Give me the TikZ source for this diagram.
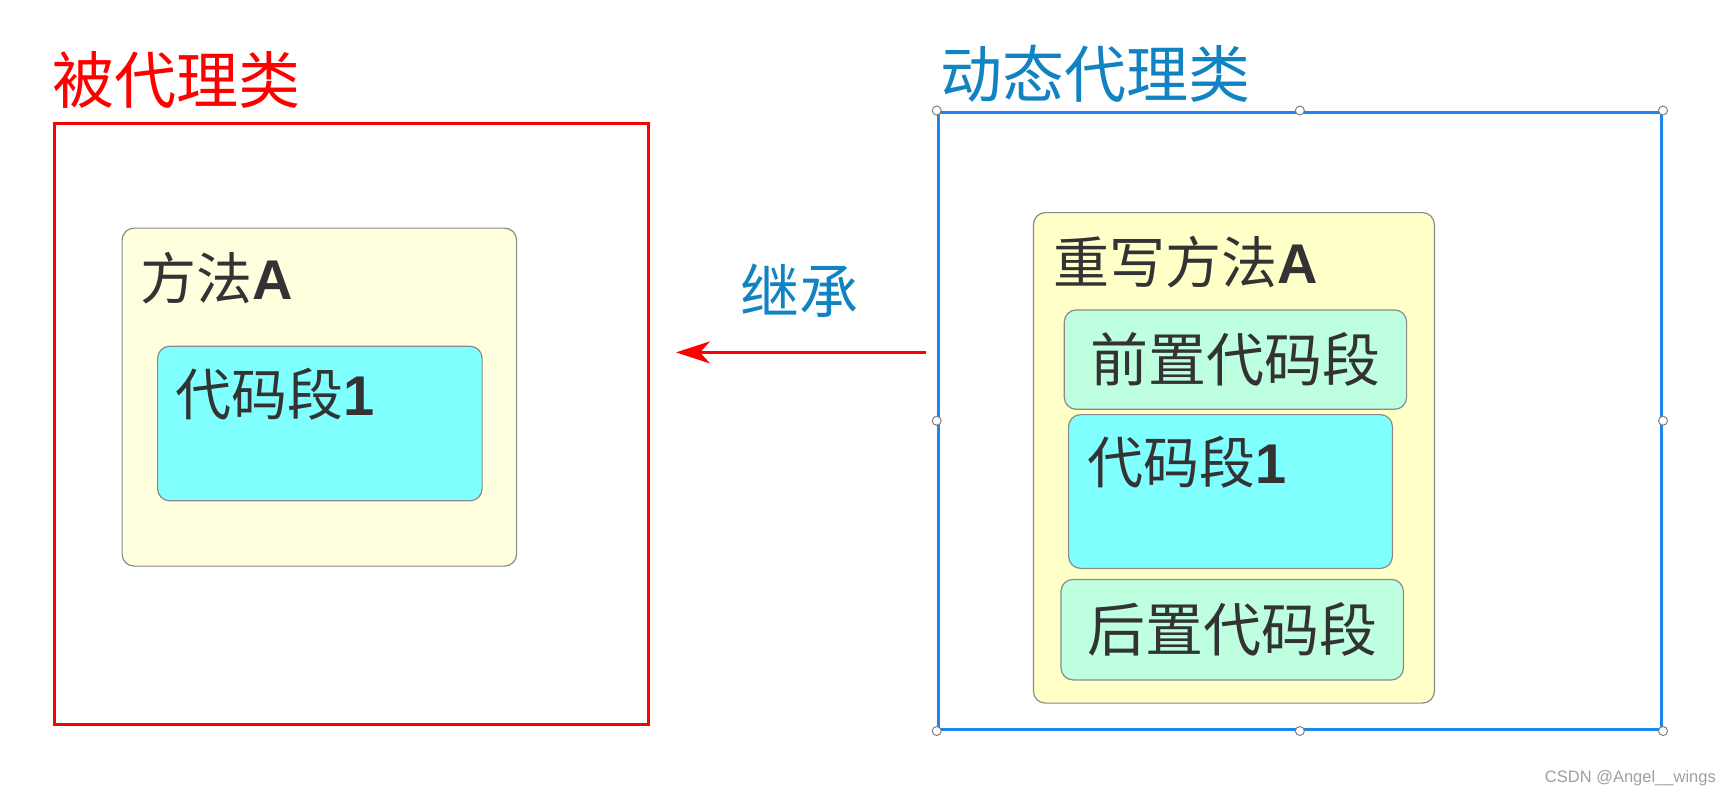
\documentclass[tikz,border=0pt]{standalone}
\usepackage{fontspec}
\setmainfont{Liberation Sans}
\newfontfamily\cjk{Noto Sans CJK SC}
\newcommand{\latb}[1]{{\rmfamily\bfseries #1}}
\usetikzlibrary{arrows.meta}
\definecolor{redc}{HTML}{FF0000}
\definecolor{bluebox}{HTML}{1C86EE}
\definecolor{bluetxt}{HTML}{1283C2}
\definecolor{yelL}{HTML}{FFFFDF}
\definecolor{yelR}{HTML}{FFFFC8}
\definecolor{cyanc}{HTML}{80FFFF}
\definecolor{mint}{HTML}{BDFFDF}
\definecolor{edgec}{HTML}{8A8A8A}
\definecolor{txtc}{HTML}{333333}
\tikzset{
  outerred/.style={draw=redc, line width=3pt, inner sep=0pt, anchor=north west},
  outerblue/.style={draw=bluebox, line width=3pt, inner sep=0pt, anchor=north west},
  roundbox/.style={draw=edgec, line width=1.2pt, rounded corners=12pt, inner sep=0pt, anchor=north west},
  title/.style={anchor=west, inner sep=0pt, font=\cjk\fontsize{62}{70}\selectfont},
  lbl/.style={anchor=west, inner sep=0pt, text=txtc, font=\cjk\fontsize{56}{64}\selectfont},
  handle/.style={circle, draw=gray, fill=white, line width=1pt, inner sep=0pt, minimum size=9pt},
}
\begin{document}
\begin{tikzpicture}[x=1pt,y=-1pt]
\useasboundingbox (0,0) rectangle (1732,796);
\fill[white] (0,0) rectangle (1732,796);

% left: proxied class
\node[title, text=redc] (tL) at (52,80) {被代理类};
\node[outerred, minimum width=594pt, minimum height=601pt] (red) at (53,121.5) {};
\node[roundbox, fill=yelL, minimum width=394.5pt, minimum height=338pt] (mA) at (121.5,227.5) {};
\node[lbl] (tmA) at (140,278) {方法\latb{A}};
\node[roundbox, fill=cyanc, minimum width=324.5pt, minimum height=154.5pt] (c1) at (157,345.7) {};
\node[lbl] (tc1) at (175,394) {代码段\latb{1}};

% arrow
\node[title, anchor=center, text=bluetxt, font=\cjk\fontsize{59}{66}\selectfont] (inh) at (799,291) {继承};
\coordinate (arrS) at (925.6,352.4);
\coordinate (arrE) at (676,352.4);
\draw[redc, line width=3pt, -{Stealth[length=34pt,width=22pt,inset=10pt]}] (arrS) -- (arrE);

% right: dynamic proxy class
\node[title, text=bluetxt] (tR) at (940,74) {动态代理类};
\node[outerblue, minimum width=723.3pt, minimum height=617.5pt] (blue) at (936.7,110.5) {};
\foreach \a/\n in {north west/h1,north/h2,north east/h3,east/h4,south east/h5,south/h6,south west/h7,west/h8}
  \node[handle] (\n) at (blue.\a) {};
\node[roundbox, fill=yelR, minimum width=401pt, minimum height=490.5pt] (mR) at (1032.8,212) {};
\node[lbl] (tmR) at (1053,262) {重写方法\latb{A}};
\node[roundbox, fill=mint, minimum width=342.3pt, minimum height=99.4pt] (pre) at (1063.7,309.3) {};
\node[lbl, anchor=center, font=\cjk\fontsize{58}{64}\selectfont] (tpre) at (pre.center) {前置代码段};
\node[roundbox, fill=cyanc, minimum width=323.8pt, minimum height=153.8pt] (c2) at (1068,414) {};
\node[lbl] (tc2) at (1087,462) {代码段\latb{1}};
\node[roundbox, fill=mint, minimum width=342.4pt, minimum height=100.5pt] (post) at (1060.4,578.8) {};
\node[lbl, anchor=center, font=\cjk\fontsize{58}{64}\selectfont] (tpost) at (post.center) {后置代码段};

% watermark
\node[anchor=east, inner sep=0pt, text=gray!75, font=\fontsize{16.5}{19}\selectfont] (wm) at (1716,778) {CSDN @Angel\_\_wings};
\end{tikzpicture}
\end{document}
